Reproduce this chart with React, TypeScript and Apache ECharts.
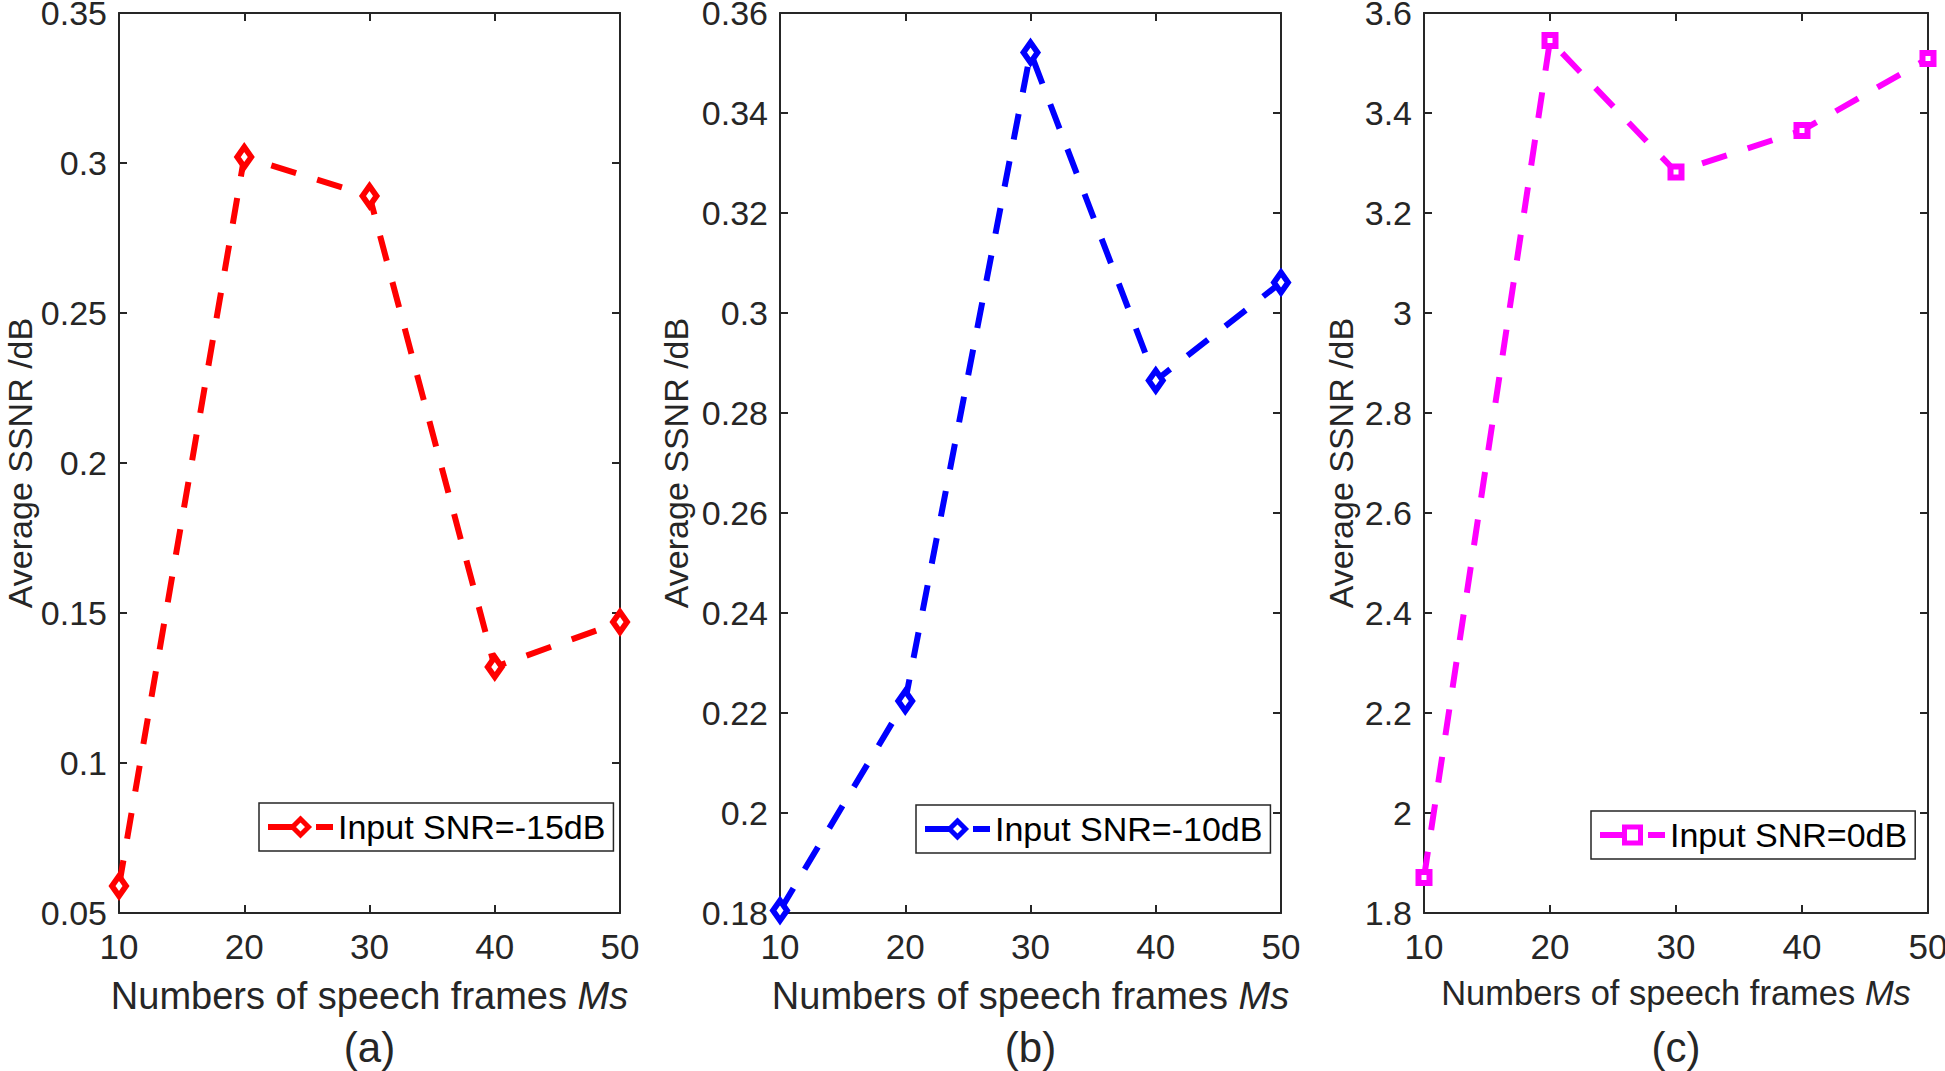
import React, { useEffect, useRef } from "react";
import * as echarts from "echarts";

// ---- data ----
const frames = [10, 20, 30, 40, 50];
const ssnrSnrM15 = [0.059, 0.302, 0.289, 0.132, 0.147];
const ssnrSnrM10 = [0.1805, 0.2224, 0.3521, 0.2865, 0.3061];
const ssnrSnr0 = [1.871, 3.545, 3.282, 3.365, 3.509];
const seriesNames = ["Input SNR=-15dB", "Input SNR=-10dB", "Input SNR=0dB"];
const captions = ["(a)", "(b)", "(c)"];
const yMins = [0.05, 0.18, 1.8];
const yMaxs = [0.35, 0.36, 3.6];
const yIntervals = [0.05, 0.02, 0.2];
const xMin = 10;
const xMax = 50;
const xInterval = 10;
const xLabel = "Numbers of speech frames ";
const xLabelItalic = "Ms";
const yLabel = "Average SSNR /dB";

// ---- styles / layout ----
const FONT = "'Liberation Sans', Arial, Helvetica, sans-serif";
const AX = "#262626";
const colors = ["#ff0000", "#0000ff", "#ff00ff"];
const symbols = ["diamond", "diamond", "rect"];
const symbolSizes: any[] = [[14, 20], [14, 20], 11];
const grids = [
  { left: 119, top: 13, width: 501, height: 900 },
  { left: 780, top: 13, width: 501, height: 900 },
  { left: 1424, top: 13, width: 504, height: 900 },
];
const legendPos = [
  { left: 259, top: 803 },
  { left: 916, top: 805 },
  { left: 1591, top: 811 },
];
const yNameGaps = [84, 89, 68];
const xNameSizes = [38, 38, 34.5];
const xNameGaps = [64, 64, 62];

export default function App() {
  const ref = useRef<HTMLDivElement>(null);
  useEffect(() => {
    if (!ref.current) return;
    const chart = echarts.init(ref.current, undefined, { renderer: "svg" });
    const values = [ssnrSnrM15, ssnrSnrM10, ssnrSnr0];
    const fmt = (v: number) => String(+v.toFixed(3));
    const xAxes: any[] = [];
    const yAxes: any[] = [];
    const series: any[] = [];
    const legends: any[] = [];
    const graphics: any[] = [];
    for (let i = 0; i < 3; i++) {
      const common = {
        gridIndex: i,
        type: "value",
        axisLine: { show: true, onZero: false, lineStyle: { color: AX, width: 2 } },
        axisTick: { show: true, inside: true, length: 8, lineStyle: { color: AX, width: 2 } },
        splitLine: { show: false },
      };
      xAxes.push({
        ...common,
        position: "bottom",
        min: xMin,
        max: xMax,
        interval: xInterval,
        axisLabel: { show: true, color: AX, fontSize: 35, fontFamily: FONT, margin: 16 },
        name: `${xLabel}{it|${xLabelItalic}}`,
        nameLocation: "middle",
        nameGap: xNameGaps[i],
        nameTextStyle: {
          color: AX,
          fontSize: xNameSizes[i],
          fontFamily: FONT,
          rich: { it: { fontStyle: "italic", fontSize: xNameSizes[i], color: AX, fontFamily: FONT } },
        },
      });
      xAxes.push({
        ...common,
        position: "top",
        min: xMin,
        max: xMax,
        interval: xInterval,
        axisLabel: { show: false },
      });
      yAxes.push({
        ...common,
        position: "left",
        min: yMins[i],
        max: yMaxs[i],
        interval: yIntervals[i],
        axisLabel: {
          show: true,
          color: AX,
          fontSize: 34,
          lineHeight: 24,
          fontFamily: FONT,
          margin: 12,
          formatter: fmt,
        },
        name: yLabel,
        nameLocation: "middle",
        nameGap: yNameGaps[i],
        nameTextStyle: { color: AX, fontSize: 34, lineHeight: 30, fontFamily: FONT },
      });
      yAxes.push({
        ...common,
        position: "right",
        min: yMins[i],
        max: yMaxs[i],
        interval: yIntervals[i],
        axisLabel: { show: false },
      });
      series.push({
        type: "line",
        name: seriesNames[i],
        xAxisIndex: i * 2,
        yAxisIndex: i * 2,
        data: frames.map((f, k) => [f, values[i][k]]),
        clip: false,
        symbol: symbols[i],
        symbolSize: symbolSizes[i],
        showAllSymbol: true,
        lineStyle: { color: colors[i], width: 6, type: [26, 22] },
        itemStyle: { color: "#ffffff", borderColor: colors[i], borderWidth: 6 },
        z: 3,
      });
      legends.push({
        data: [seriesNames[i]],
        left: legendPos[i].left,
        top: legendPos[i].top,
        orient: "horizontal",
        backgroundColor: "#ffffff",
        borderColor: AX,
        borderWidth: 1.5,
        padding: [7, 8, 7, 6],
        itemWidth: 65,
        itemHeight: 20,
        itemStyle: { color: "#ffffff", borderColor: colors[i], borderWidth: 5 },
        lineStyle: { color: colors[i], width: 6, type: [26, 22] },
        textStyle: { color: "#000", fontSize: 34, fontFamily: FONT },
        selectedMode: false,
      });
      graphics.push({
        type: "text",
        x: grids[i].left + grids[i].width / 2,
        y: 1047,
        style: {
          text: captions[i],
          fill: AX,
          fontSize: 42,
          fontFamily: FONT,
          textAlign: "center",
          textVerticalAlign: "middle",
        },
      });
    }
    chart.setOption({
      animation: false,
      backgroundColor: "#ffffff",
      grid: grids.map((g) => ({ ...g, containLabel: false, outerBoundsMode: "none" })),
      xAxis: xAxes,
      yAxis: yAxes,
      series,
      legend: legends,
      graphic: graphics,
    });
    return () => chart.dispose();
  }, []);
  return (
    <div
      ref={ref}
      style={{ position: "fixed", left: 0, top: 0, width: 1945, height: 1071, background: "#fff" }}
    />
  );
}
